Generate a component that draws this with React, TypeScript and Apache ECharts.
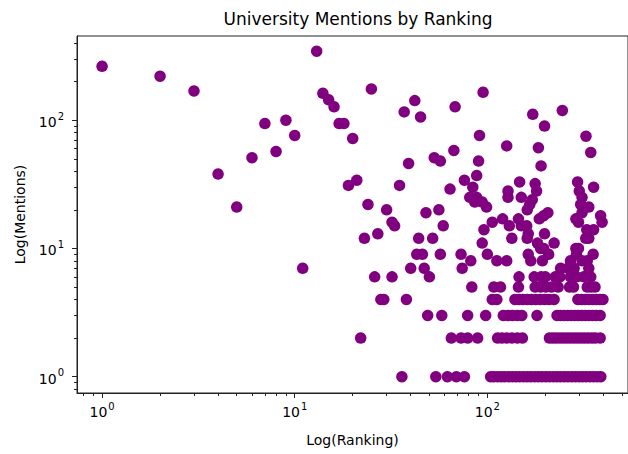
import React, { useEffect, useRef } from 'react';
import * as echarts from 'echarts';

const titleText = 'University Mentions by Ranking';
const xName = 'Log(Ranking)';
const yName = 'Log(Mentions)';

const majorTicks = [1, 10, 100];
const tickBase = '10';
const tickExponents = ['0', '1', '2'];
const xMinorTicks = [0.8, 0.9, 2, 3, 4, 5, 6, 7, 8, 9, 20, 30, 40, 50, 60, 70, 80, 90, 200, 300, 400, 500];
const yMinorTicks = [0.8, 0.9, 2, 3, 4, 5, 6, 7, 8, 9, 20, 30, 40, 50, 60, 70, 80, 90, 200, 300, 400];

const xMin = 0.741;
const xMax = 537;
const yMin = 0.746;
const yMax = 453;

// rankings of universities with exactly N mentions
const ranksWith1 = [36, 54, 62, 69, 76, 104, 108, 113, 118, 123, 129, 135, 141, 147, 154, 161, 168, 176, 184, 192, 201, 210, 220, 230, 240, 251, 262, 274, 286, 299, 312, 326, 341, 356, 372, 388];
const ranksWith2 = [22, 65, 73, 79, 89, 113, 119, 126, 134, 143, 152, 210, 219, 228, 238, 248, 259, 270, 282, 294, 307, 320, 334, 349, 364, 385];
const ranksWith3 = [49, 58, 79, 98, 121, 128, 135, 143, 151, 181, 230, 240, 250, 261, 272, 284, 296, 309, 322, 336, 351, 367, 385];
const ranksWith4 = [28, 29, 38, 106, 112, 139, 146, 153, 161, 169, 178, 188, 198, 209, 222, 295, 308, 322, 337, 352, 368, 384, 398];
const ranksWith5 = [83, 108, 117, 145, 177, 189, 201, 215, 233, 267, 280, 330, 345, 362];
const ranksWith6 = [26, 32, 50, 146, 175, 190, 200, 225, 238, 270, 291, 316, 344];
const ranksWith7 = [11, 40, 47, 74, 240, 262, 282, 336];
const ranksWith8 = [82, 112, 126, 168, 193, 270, 310, 330];
const ranksWith9 = [43, 46, 57, 73, 100, 163, 208, 290, 354];
const ranksWith10 = [189, 196, 288, 297];
const ranksWith11 = [94, 182, 222];
const ranksWith12 = [23, 44, 52, 134, 161, 324, 336];

// other universities: ranking and mentions
const otherRanks = [1, 2, 3, 4, 5, 6, 7, 8, 9, 10, 13, 14, 15, 16, 17, 18, 19, 20, 21, 24, 25, 27, 30, 32, 33, 35, 37, 39, 42, 45, 48, 53, 56, 57, 59, 64, 67, 68, 76, 81, 84, 86, 88, 88, 90, 91, 94, 95, 96, 99, 106, 120, 126, 128, 128, 130, 145, 147, 150, 150, 160, 163, 161, 166, 171, 172, 177, 180, 184, 186, 190, 196, 198, 198, 206, 245, 288, 294, 297, 300, 305, 310, 310, 325, 328, 336, 344, 356, 356, 387, 394];
const otherMentions = [263, 220, 169, 38, 21, 51, 94, 57, 100, 76, 345, 162, 144, 127, 94, 94, 31, 72, 34, 22, 175, 13, 20, 16, 15, 31, 116, 46, 142, 106, 19, 51, 20, 48, 15, 29, 58, 127, 34, 25, 30, 23, 25, 37, 48, 76, 23, 165, 14, 21, 16, 17, 63, 28, 25, 15, 17, 33, 25, 15, 15, 13, 20, 22, 24, 111, 32, 28, 61, 17, 44, 18, 90, 13, 19, 119, 17, 33, 16, 28, 22, 25, 19, 75, 14, 21, 56, 30, 14, 18, 16];

const rows: [number, number[]][] = [
  [1, ranksWith1], [2, ranksWith2], [3, ranksWith3], [4, ranksWith4], [5, ranksWith5], [6, ranksWith6],
  [7, ranksWith7], [8, ranksWith8], [9, ranksWith9], [10, ranksWith10], [11, ranksWith11], [12, ranksWith12],
];

const FONT = 'DejaVu Sans';

export default function App() {
  const ref = useRef<HTMLDivElement>(null);
  useEffect(() => {
    if (!ref.current) return;
    const chart = echarts.init(ref.current, undefined, { renderer: 'svg' });
    const data: number[][] = [];
    rows.forEach(([m, ranks]) => ranks.forEach((r) => data.push([r, m])));
    otherRanks.forEach((r, i) => data.push([r, otherMentions[i]]));

    const labelFor = (v: number) => {
      const i = Math.round(Math.log10(v));
      const e = tickExponents[i];
      return e === undefined ? '' : `{b|${tickBase}}{s|${e}}`;
    };
    const rich = {
      b: { fontFamily: FONT, fontSize: 14, lineHeight: 18, color: '#000', verticalAlign: 'bottom' },
      s: { fontFamily: FONT, fontSize: 10, lineHeight: 18, color: '#000', verticalAlign: 'top', padding: [0, 0, 0, 1] },
    };

    const axisCommon = {
      splitLine: { show: false },
      minorTick: { show: false },
      minorSplitLine: { show: false },
    };

    chart.setOption({
      animation: false,
      backgroundColor: '#fff',
      title: {
        text: titleText,
        left: 353,
        textAlign: 'center',
        top: 5,
        textStyle: { fontFamily: FONT, fontSize: 17, fontWeight: 'normal', color: '#000' },
      },
      grid: { left: 77, top: 36, right: -2, bottom: 61, show: true, borderColor: '#222', borderWidth: 1, backgroundColor: 'transparent' },
      xAxis: [
        {
          ...axisCommon,
          type: 'log',
          logBase: 10,
          min: xMin,
          max: xMax,
          position: 'bottom',
          name: xName,
          nameLocation: 'middle',
          nameGap: 40,
          nameTextStyle: { fontFamily: FONT, fontSize: 14, color: '#000' },
          axisLine: { show: true, lineStyle: { color: '#222', width: 1 } },
          axisTick: { show: true, length: 5, lineStyle: { color: '#222', width: 1 }, customValues: majorTicks },
          axisLabel: { customValues: majorTicks, formatter: labelFor, rich, margin: 8 },
        },
        {
          ...axisCommon,
          type: 'log',
          logBase: 10,
          min: xMin,
          max: xMax,
          position: 'bottom',
          axisLine: { show: false },
          axisTick: { show: true, length: 3, lineStyle: { color: '#222', width: 1 }, customValues: xMinorTicks },
          axisLabel: { show: false },
        },
      ],
      yAxis: [
        {
          ...axisCommon,
          type: 'log',
          logBase: 10,
          min: yMin,
          max: yMax,
          position: 'left',
          name: yName,
          nameLocation: 'middle',
          nameGap: 50,
          nameTextStyle: { fontFamily: FONT, fontSize: 14, color: '#000' },
          axisLine: { show: true, lineStyle: { color: '#222', width: 1 } },
          axisTick: { show: true, length: 5, lineStyle: { color: '#222', width: 1 }, customValues: majorTicks },
          axisLabel: { customValues: majorTicks, formatter: labelFor, rich, margin: 13 },
        },
        {
          ...axisCommon,
          type: 'log',
          logBase: 10,
          min: yMin,
          max: yMax,
          position: 'left',
          axisLine: { show: false },
          axisTick: { show: true, length: 3, lineStyle: { color: '#222', width: 1 }, customValues: yMinorTicks },
          axisLabel: { show: false },
        },
      ],
      series: [
        {
          type: 'scatter',
          xAxisIndex: 0,
          yAxisIndex: 0,
          data,
          symbol: 'circle',
          symbolSize: 11.5,
          itemStyle: { color: '#800080', opacity: 1 },
          emphasis: { disabled: true },
        },
      ],
    });
    return () => chart.dispose();
  }, []);
  return <div ref={ref} style={{ position: 'absolute', left: 0, top: 0, width: 628, height: 454 }} />;
}
